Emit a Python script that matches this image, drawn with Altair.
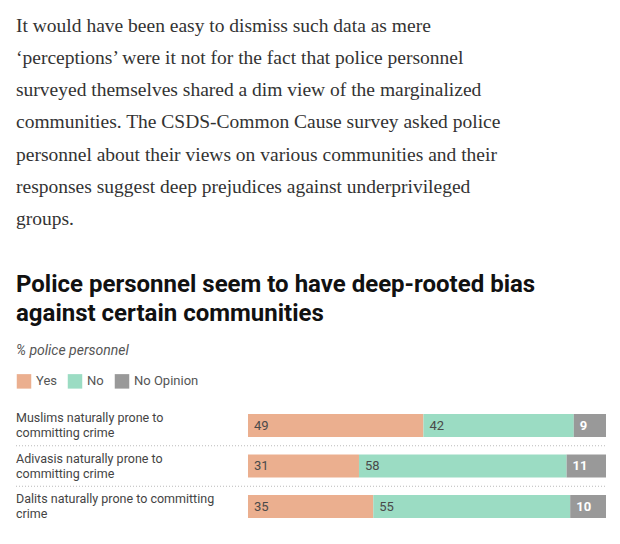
import altair as alt
import pandas as pd

# ---- data ----
paragraph = [
    "It would have been easy to dismiss such data as mere",
    "\u2018perceptions\u2019 were it not for the fact that police personnel",
    "surveyed themselves shared a dim view of the marginalized",
    "communities. The CSDS-Common Cause survey asked police",
    "personnel about their views on various communities and their",
    "responses suggest deep prejudices against underprivileged",
    "groups.",
]
title_lines = [
    "Police personnel seem to have deep-rooted bias",
    "against certain communities",
]
subtitle = "% police personnel"
statements = [
    "Muslims naturally prone to\ncommitting crime",
    "Adivasis naturally prone to\ncommitting crime",
    "Dalits naturally prone to committing\ncrime",
]
answers = ["Yes", "No", "No Opinion"]
yes_vals = [49, 31, 35]
no_vals = [42, 58, 55]
noop_vals = [9, 11, 10]
colors = ["#EBAF8F", "#9BDCC3", "#999999"]

rows = []
for i, st in enumerate(statements):
    start = 0
    for ans, v in zip(answers, [yes_vals[i], no_vals[i], noop_vals[i]]):
        rows.append({"row": i, "statement": st, "answer": ans, "value": v,
                     "start": start, "end": start + v})
        start += v
df = pd.DataFrame(rows)
df_rows = pd.DataFrame({"row": list(range(len(statements))), "statement": statements})
df_seps = pd.DataFrame({"sep": [i + 0.5 for i in range(len(statements) - 1)]})

X = alt.Scale(domain=[0, 100], range=[248, 606])
Y = alt.Scale(domain=[0, 2], range=[420.5, 511.5], zero=False, nice=False)

color = alt.Color(
    "answer:N",
    scale=alt.Scale(domain=answers, range=colors),
    legend=alt.Legend(
        orient="none", legendX=16, legendY=373, direction="horizontal",
        title=None, symbolType="square", symbolSize=210,
        symbolOpacity=1, labelFont="Roboto", labelFontSize=13, labelColor="#555555",
        columnPadding=10, labelOffset=4,
    ),
)

bars = alt.Chart(df).mark_bar(height=23, opacity=1).encode(
    x=alt.X("start:Q", scale=X, axis=None),
    x2="end:Q",
    y=alt.Y("row:Q", scale=Y, axis=None),
    color=color,
)

lab_main = alt.Chart(df[df.answer != "No Opinion"]).mark_text(
    align="left", baseline="middle", dx=6, font="Roboto", fontSize=13, color="#4a4a4a"
).encode(
    x=alt.X("start:Q", scale=X, axis=None), y=alt.Y("row:Q", scale=Y, axis=None),
    text="value:Q"
)
lab_noop = alt.Chart(df[df.answer == "No Opinion"]).mark_text(
    align="left", baseline="middle", dx=6, font="Roboto", fontSize=13,
    fontWeight="bold", color="white"
).encode(
    x=alt.X("start:Q", scale=X, axis=None), y=alt.Y("row:Q", scale=Y, axis=None),
    text="value:Q"
)

row_labels = alt.Chart(df_rows).mark_text(
    align="left", baseline="middle", lineBreak="\n", lineHeight=15, dy=-7.5,
    font="Roboto", fontSize=12.5, color="#444444"
).encode(
    x=alt.value(16), y=alt.Y("row:Q", scale=Y, axis=None), text="statement:N"
)

seps = alt.Chart(df_seps).mark_rule(
    strokeDash=[1, 2], color="#bbbbbb", strokeWidth=1
).encode(
    x=alt.value(16), x2=alt.value(606),
    y=alt.Y("sep:Q", scale=Y, axis=None),
)

para = alt.Chart(pd.DataFrame({"t": ["\n".join(paragraph)]})).mark_text(
    align="left", baseline="alphabetic", lineBreak="\n", lineHeight=32.25,
    font="Liberation Serif", fontSize=19.5, color="#333333"
).encode(x=alt.value(16), y=alt.value(31.5), text="t:N")

title = alt.Chart(pd.DataFrame({"t": ["\n".join(title_lines)]})).mark_text(
    align="left", baseline="alphabetic", lineBreak="\n", lineHeight=29,
    font="Roboto", fontSize=24, fontWeight="bold", color="#111111"
).encode(x=alt.value(16), y=alt.value(292), text="t:N")

sub = alt.Chart(pd.DataFrame({"t": [subtitle]})).mark_text(
    align="left", baseline="alphabetic", font="Roboto", fontSize=14,
    fontStyle="italic", color="#555555"
).encode(x=alt.value(16), y=alt.value(355), text="t:N")

chart = alt.layer(bars, seps, lab_main, lab_noop, row_labels, para, title, sub).properties(
    width=620, height=544, autosize=alt.AutoSizeParams(type="none"), padding=0,
    background="white",
).configure_view(stroke=None)

chart.save("out.html", embed_options={"renderer": "svg", "actions": False})
